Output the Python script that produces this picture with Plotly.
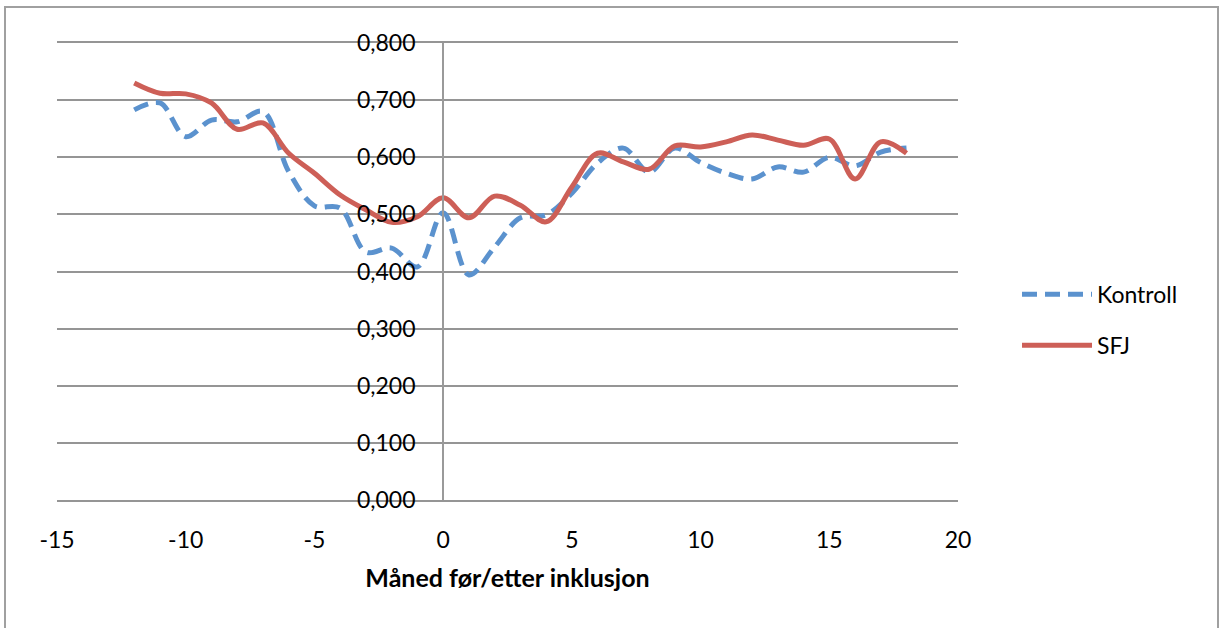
import plotly.graph_objects as go

months = list(range(-12, 19))
kontroll = [0.683, 0.695, 0.636, 0.665, 0.662, 0.680, 0.575, 0.515, 0.511, 0.434, 0.441, 0.408,
            0.503, 0.394, 0.443, 0.494, 0.499, 0.537, 0.590, 0.616, 0.574, 0.616, 0.591, 0.572,
            0.562, 0.583, 0.574, 0.600, 0.585, 0.609, 0.616]
sfj = [0.730, 0.712, 0.711, 0.695, 0.649, 0.660, 0.607, 0.572, 0.534, 0.508, 0.486, 0.496,
       0.529, 0.494, 0.532, 0.516, 0.487, 0.548, 0.607, 0.592, 0.579, 0.620, 0.618, 0.627,
       0.639, 0.630, 0.621, 0.632, 0.562, 0.627, 0.607]
series_names = ["Kontroll", "SFJ"]
x_ticks = [-15, -10, -5, 0, 5, 10, 15, 20]
x_tick_labels = ["-15", "-10", "-5", "0", "5", "10", "15", "20"]
y_ticks = [0, 0.1, 0.2, 0.3, 0.4, 0.5, 0.6, 0.7, 0.8]
x_title = "Måned før/etter inklusjon"

FONT = "Lato"
GRID = "#959595"
fig = go.Figure()
fig.add_trace(go.Scatter(x=months, y=kontroll, name=series_names[0], mode="lines",
                         line=dict(color="#5B92CE", width=5, dash="15px,8px", shape="spline", smoothing=1),
                         legendgroup="a"))
fig.add_trace(go.Scatter(x=months, y=sfj, name=series_names[1], mode="lines",
                         line=dict(color="#CD5F57", width=5, shape="spline", smoothing=1),
                         legendgroup="b"))

fig.update_layout(
    width=1220, height=628,
    margin=dict(l=57, r=262, t=43, b=128),
    paper_bgcolor="white", plot_bgcolor="white",
    font=dict(family=FONT, size=23, color="black"),
    separators=", ",
    showlegend=True,
    legend=dict(x=1.0655, xanchor="left", y=0.497, yanchor="top", traceorder="grouped",
                tracegroupgap=18, itemwidth=70, font=dict(size=23)),
    xaxis=dict(range=[-15, 20], tickvals=x_ticks, ticktext=x_tick_labels, showgrid=False, zeroline=False,
               showline=True, mirror=True, linecolor=GRID, linewidth=2, ticks="", ticklabelstandoff=18,
               title=dict(text="<b>" + x_title + "</b>", standoff=18,
                          font=dict(size=25))),
    yaxis=dict(range=[0, 0.8], tickvals=y_ticks, tickformat=".3f",
               showgrid=True, gridcolor=GRID, gridwidth=2, zeroline=False,
               showline=True, linecolor="#9a9a9a", linewidth=2,
               anchor="free", position=15 / 35, ticks="", ticklabelstandoff=22),
)
fig.add_shape(type="rect", xref="paper", yref="paper",
              x0=(5 - 57) / 901, x1=(1218 - 57) / 901, y0=-0.35, y1=(500 - 7) / 457,
              line=dict(color="#A0A0A0", width=2), layer="below")
fig.write_html("out.html")
